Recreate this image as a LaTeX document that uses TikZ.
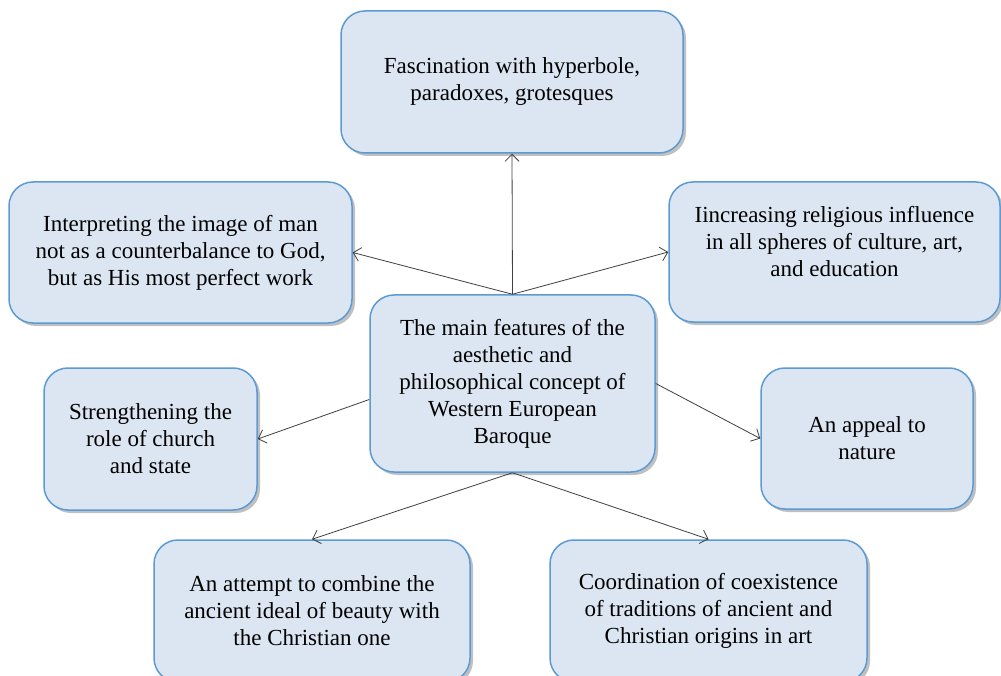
\documentclass[tikz,border=0pt]{standalone}
\usepackage{fontspec}
\setmainfont{Liberation Serif}
\usetikzlibrary{arrows.meta,shadows}
\definecolor{boxfill}{HTML}{DCE6F2}
\definecolor{boxline}{HTML}{5B9BD5}
\definecolor{arrowcol}{HTML}{404040}
\tikzset{
  featurebox/.style={draw=boxline, line width=1.5pt, fill=boxfill, rounded corners=24pt,
    align=center, inner sep=4pt,
    font=\fontsize{23}{27}\selectfont,
    drop shadow={shadow xshift=3pt, shadow yshift=-3pt, opacity=0.35, fill=black!70}},
  link/.style={draw=arrowcol, line width=0.8pt, -{Straight Barb[length=7pt,width=14pt]}}
}
\begin{document}
\begin{tikzpicture}[x=1pt,y=-1pt]
\useasboundingbox (0,0) rectangle (1001,676);
\fill[white] (0,0) rectangle (1001,676);
\clip (0,0) rectangle (1001,676);
\node[featurebox, minimum width=342pt, minimum height=142pt] (top) at (512,82)
  {Fascination with hyperbole,\\paradoxes, grotesques};
\node[featurebox, minimum width=343pt, minimum height=141pt] (ul) at (180.5,252.5)
  {Interpreting the image of man\\not as a counterbalance to God,\\but as His most perfect work};
\node[featurebox, minimum width=331pt, minimum height=140pt] (ur) at (834.5,252)
  {Iincreasing religious influence\\in all spheres of culture, art,\\and education\rule[-22pt]{0pt}{22pt}};
\node[featurebox, minimum width=285pt, minimum height=177pt] (c) at (512.5,383.5)
  {The main features of the\\aesthetic and\\philosophical concept of\\Western European\\Baroque};
\node[featurebox, minimum width=213pt, minimum height=142pt] (lm) at (150.5,439)
  {Strengthening the\\role of church\\and state};
\node[featurebox, minimum width=212pt, minimum height=141pt] (rm) at (867,438.5)
  {An appeal to\\nature};
\node[featurebox, minimum width=316pt, minimum height=142pt] (bl) at (312,611)
  {An attempt to combine the\\ancient ideal of beauty with\\the Christian one};
\node[featurebox, minimum width=317pt, minimum height=142pt] (br) at (708.5,611)
  {Coordination of coexistence\\of traditions of ancient and\\Christian origins in art};
\draw[link] (c.north) -- (top.south);
\draw[link] (c.north) -- (ul.east);
\draw[link] (c.north) -- (ur.west);
\draw[link] ([yshift=-16pt]c.west) -- (lm.east);
\draw[link] (c.east) -- (rm.west);
\draw[link] (c.south) -- (bl.north);
\draw[link] (c.south) -- (br.north);
\end{tikzpicture}
\end{document}
